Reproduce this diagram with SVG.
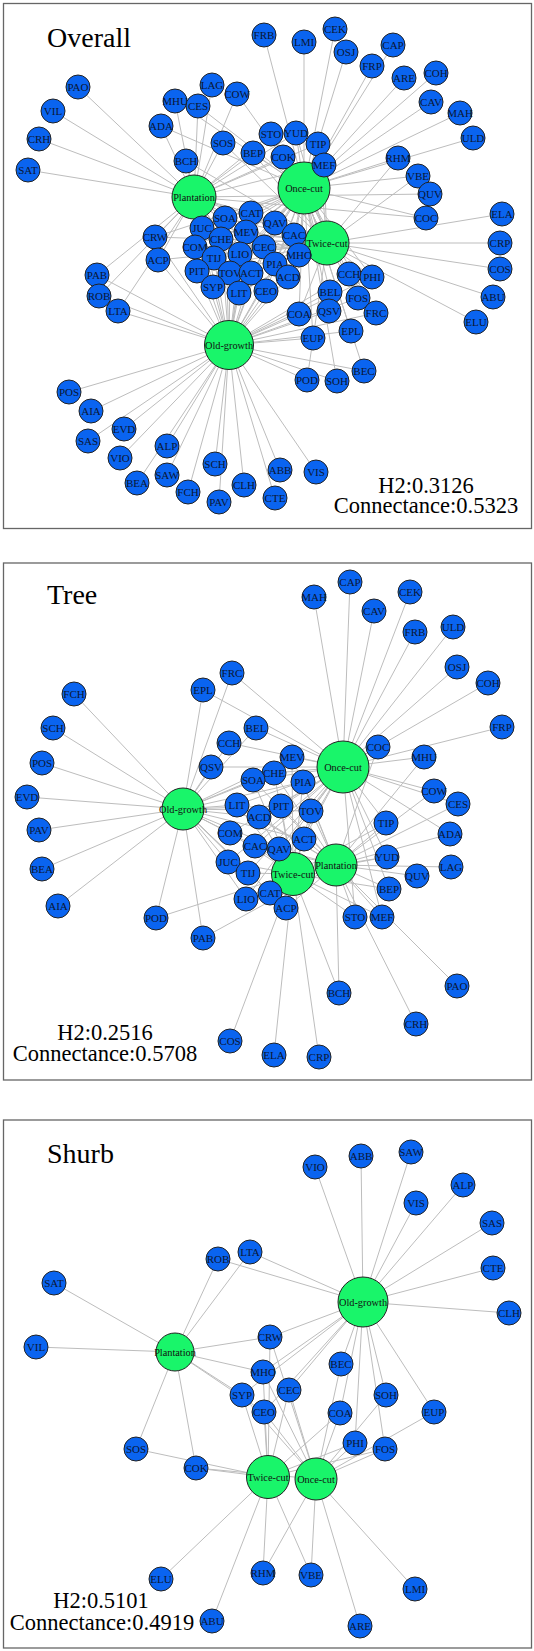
<svg xmlns="http://www.w3.org/2000/svg" width="534" height="1651" viewBox="0 0 534 1651">
<style>
.b circle{fill:#0a64f0;stroke:#222;stroke-width:1}
.b text{font-family:"Liberation Serif",serif;font-size:11px;fill:#0b1633;text-anchor:middle}
.g circle{fill:#19f56a;stroke:#222;stroke-width:1}
.g text{font-family:"Liberation Serif",serif;font-size:10.3px;fill:#111;text-anchor:middle}
.e line{stroke:#bdbdbd;stroke-width:1}
.frame{fill:none;stroke:#666;stroke-width:1.3}
.title{font-family:"Liberation Serif",serif;font-size:28px;fill:#000}
.stat{font-family:"Liberation Serif",serif;font-size:22.5px;fill:#000;text-anchor:middle}
</style>
<rect width="534" height="1651" fill="#fff"/>
<rect class="frame" x="3.5" y="3.5" width="528" height="525"/>
<rect class="frame" x="3.5" y="563" width="528" height="517"/>
<rect class="frame" x="3.5" y="1120" width="528" height="528"/>
<text class="title" x="47" y="47">Overall</text>
<text class="title" x="47" y="604">Tree</text>
<text class="title" x="47" y="1163">Shurb</text>
<text class="stat" x="426" y="493">H2:0.3126</text>
<text class="stat" x="426" y="513">Connectance:0.5323</text>
<text class="stat" x="105" y="1040">H2:0.2516</text>
<text class="stat" x="105" y="1061">Connectance:0.5708</text>
<text class="stat" x="101" y="1608">H2:0.5101</text>
<text class="stat" x="102" y="1630">Connectance:0.4919</text>

<g id="edges-overall" class="e">
<line x1="229" y1="345" x2="188" y2="492"/><line x1="229" y1="345" x2="215" y2="464"/><line x1="229" y1="345" x2="69" y2="392"/><line x1="229" y1="345" x2="124" y2="429"/><line x1="229" y1="345" x2="219" y2="502"/><line x1="229" y1="345" x2="137" y2="483"/><line x1="229" y1="345" x2="91" y2="411"/><line x1="229" y1="345" x2="307" y2="380"/><line x1="229" y1="345" x2="97" y2="275"/><line x1="229" y1="345" x2="351" y2="331"/><line x1="229" y1="345" x2="376" y2="313"/><line x1="229" y1="345" x2="330" y2="292"/><line x1="229" y1="345" x2="349" y2="274"/><line x1="229" y1="345" x2="329" y2="311"/><line x1="229" y1="345" x2="225" y2="218"/><line x1="229" y1="345" x2="239" y2="293"/><line x1="229" y1="345" x2="288" y2="277"/><line x1="229" y1="345" x2="221" y2="239"/><line x1="229" y1="345" x2="246" y2="232"/><line x1="229" y1="345" x2="275" y2="264"/><line x1="229" y1="345" x2="197" y2="271"/><line x1="229" y1="345" x2="230" y2="273"/><line x1="229" y1="345" x2="195" y2="247"/><line x1="229" y1="345" x2="202" y2="228"/><line x1="229" y1="345" x2="294" y2="235"/><line x1="229" y1="345" x2="214" y2="258"/><line x1="229" y1="345" x2="240" y2="254"/><line x1="229" y1="345" x2="251" y2="213"/><line x1="229" y1="345" x2="251" y2="273"/><line x1="229" y1="345" x2="275" y2="223"/><line x1="229" y1="345" x2="158" y2="260"/><line x1="229" y1="345" x2="120" y2="458"/><line x1="229" y1="345" x2="280" y2="470"/><line x1="229" y1="345" x2="167" y2="475"/><line x1="229" y1="345" x2="316" y2="472"/><line x1="229" y1="345" x2="167" y2="446"/><line x1="229" y1="345" x2="88" y2="441"/><line x1="229" y1="345" x2="275" y2="498"/><line x1="229" y1="345" x2="244" y2="485"/><line x1="229" y1="345" x2="99" y2="296"/><line x1="229" y1="345" x2="118" y2="311"/><line x1="229" y1="345" x2="155" y2="237"/><line x1="229" y1="345" x2="364" y2="371"/><line x1="229" y1="345" x2="299" y2="255"/><line x1="229" y1="345" x2="213" y2="287"/><line x1="229" y1="345" x2="264" y2="247"/><line x1="229" y1="345" x2="266" y2="291"/><line x1="229" y1="345" x2="299" y2="314"/><line x1="229" y1="345" x2="337" y2="381"/><line x1="229" y1="345" x2="372" y2="277"/><line x1="229" y1="345" x2="358" y2="298"/><line x1="229" y1="345" x2="313" y2="338"/>
<line x1="304" y1="188" x2="460" y2="113"/><line x1="304" y1="188" x2="393" y2="45"/><line x1="304" y1="188" x2="431" y2="102"/><line x1="304" y1="188" x2="335" y2="29"/><line x1="304" y1="188" x2="264" y2="35"/><line x1="304" y1="188" x2="473" y2="138"/><line x1="304" y1="188" x2="346" y2="52"/><line x1="304" y1="188" x2="436" y2="73"/><line x1="304" y1="188" x2="372" y2="66"/><line x1="304" y1="188" x2="426" y2="218"/><line x1="304" y1="188" x2="175" y2="101"/><line x1="304" y1="188" x2="237" y2="94"/><line x1="304" y1="188" x2="198" y2="106"/><line x1="304" y1="188" x2="318" y2="144"/><line x1="304" y1="188" x2="161" y2="126"/><line x1="304" y1="188" x2="351" y2="331"/><line x1="304" y1="188" x2="376" y2="313"/><line x1="304" y1="188" x2="330" y2="292"/><line x1="304" y1="188" x2="349" y2="274"/><line x1="304" y1="188" x2="329" y2="311"/><line x1="304" y1="188" x2="225" y2="218"/><line x1="304" y1="188" x2="239" y2="293"/><line x1="304" y1="188" x2="288" y2="277"/><line x1="304" y1="188" x2="221" y2="239"/><line x1="304" y1="188" x2="246" y2="232"/><line x1="304" y1="188" x2="275" y2="264"/><line x1="304" y1="188" x2="197" y2="271"/><line x1="304" y1="188" x2="230" y2="273"/><line x1="304" y1="188" x2="195" y2="247"/><line x1="304" y1="188" x2="202" y2="228"/><line x1="304" y1="188" x2="294" y2="235"/><line x1="304" y1="188" x2="214" y2="258"/><line x1="304" y1="188" x2="240" y2="254"/><line x1="304" y1="188" x2="251" y2="213"/><line x1="304" y1="188" x2="251" y2="273"/><line x1="304" y1="188" x2="275" y2="223"/><line x1="304" y1="188" x2="296" y2="133"/><line x1="304" y1="188" x2="271" y2="134"/><line x1="304" y1="188" x2="324" y2="165"/><line x1="304" y1="188" x2="253" y2="153"/><line x1="304" y1="188" x2="283" y2="157"/><line x1="304" y1="188" x2="398" y2="158"/><line x1="304" y1="188" x2="418" y2="176"/><line x1="304" y1="188" x2="404" y2="78"/><line x1="304" y1="188" x2="304" y2="42"/><line x1="304" y1="188" x2="299" y2="255"/><line x1="304" y1="188" x2="213" y2="287"/><line x1="304" y1="188" x2="264" y2="247"/><line x1="304" y1="188" x2="266" y2="291"/><line x1="304" y1="188" x2="299" y2="314"/><line x1="304" y1="188" x2="372" y2="277"/><line x1="304" y1="188" x2="358" y2="298"/><line x1="304" y1="188" x2="313" y2="338"/><line x1="304" y1="188" x2="337" y2="381"/><line x1="304" y1="188" x2="364" y2="371"/><line x1="304" y1="188" x2="155" y2="237"/>
<line x1="194" y1="197" x2="161" y2="126"/><line x1="194" y1="197" x2="212" y2="85"/><line x1="194" y1="197" x2="430" y2="194"/><line x1="194" y1="197" x2="296" y2="133"/><line x1="194" y1="197" x2="253" y2="153"/><line x1="194" y1="197" x2="271" y2="134"/><line x1="194" y1="197" x2="324" y2="165"/><line x1="194" y1="197" x2="186" y2="161"/><line x1="194" y1="197" x2="78" y2="87"/><line x1="194" y1="197" x2="39" y2="139"/><line x1="194" y1="197" x2="175" y2="101"/><line x1="194" y1="197" x2="237" y2="94"/><line x1="194" y1="197" x2="198" y2="106"/><line x1="194" y1="197" x2="318" y2="144"/><line x1="194" y1="197" x2="426" y2="218"/><line x1="194" y1="197" x2="225" y2="218"/><line x1="194" y1="197" x2="221" y2="239"/><line x1="194" y1="197" x2="246" y2="232"/><line x1="194" y1="197" x2="275" y2="264"/><line x1="194" y1="197" x2="197" y2="271"/><line x1="194" y1="197" x2="230" y2="273"/><line x1="194" y1="197" x2="251" y2="273"/><line x1="194" y1="197" x2="275" y2="223"/><line x1="194" y1="197" x2="294" y2="235"/><line x1="194" y1="197" x2="251" y2="213"/><line x1="194" y1="197" x2="288" y2="277"/><line x1="194" y1="197" x2="158" y2="260"/><line x1="194" y1="197" x2="239" y2="293"/><line x1="194" y1="197" x2="97" y2="275"/><line x1="194" y1="197" x2="28" y2="170"/><line x1="194" y1="197" x2="53" y2="111"/><line x1="194" y1="197" x2="99" y2="296"/><line x1="194" y1="197" x2="118" y2="311"/><line x1="194" y1="197" x2="155" y2="237"/><line x1="194" y1="197" x2="299" y2="255"/><line x1="194" y1="197" x2="213" y2="287"/><line x1="194" y1="197" x2="266" y2="291"/><line x1="194" y1="197" x2="223" y2="143"/><line x1="194" y1="197" x2="283" y2="157"/>
<line x1="327" y1="243" x2="158" y2="260"/><line x1="327" y1="243" x2="502" y2="214"/><line x1="327" y1="243" x2="500" y2="243"/><line x1="327" y1="243" x2="500" y2="269"/><line x1="327" y1="243" x2="186" y2="161"/><line x1="327" y1="243" x2="307" y2="380"/><line x1="327" y1="243" x2="251" y2="213"/><line x1="327" y1="243" x2="240" y2="254"/><line x1="327" y1="243" x2="214" y2="258"/><line x1="327" y1="243" x2="202" y2="228"/><line x1="327" y1="243" x2="195" y2="247"/><line x1="327" y1="243" x2="294" y2="235"/><line x1="327" y1="243" x2="275" y2="223"/><line x1="327" y1="243" x2="251" y2="273"/><line x1="327" y1="243" x2="230" y2="273"/><line x1="327" y1="243" x2="197" y2="271"/><line x1="327" y1="243" x2="275" y2="264"/><line x1="327" y1="243" x2="246" y2="232"/><line x1="327" y1="243" x2="221" y2="239"/><line x1="327" y1="243" x2="225" y2="218"/><line x1="327" y1="243" x2="239" y2="293"/><line x1="327" y1="243" x2="288" y2="277"/><line x1="327" y1="243" x2="271" y2="134"/><line x1="327" y1="243" x2="324" y2="165"/><line x1="327" y1="243" x2="318" y2="144"/><line x1="327" y1="243" x2="253" y2="153"/><line x1="327" y1="243" x2="296" y2="133"/><line x1="327" y1="243" x2="223" y2="143"/><line x1="327" y1="243" x2="283" y2="157"/><line x1="327" y1="243" x2="476" y2="322"/><line x1="327" y1="243" x2="493" y2="297"/><line x1="327" y1="243" x2="398" y2="158"/><line x1="327" y1="243" x2="418" y2="176"/><line x1="327" y1="243" x2="299" y2="255"/><line x1="327" y1="243" x2="213" y2="287"/><line x1="327" y1="243" x2="266" y2="291"/><line x1="327" y1="243" x2="264" y2="247"/><line x1="327" y1="243" x2="155" y2="237"/><line x1="327" y1="243" x2="299" y2="314"/><line x1="327" y1="243" x2="372" y2="277"/><line x1="327" y1="243" x2="358" y2="298"/>
</g>

<g id="edges-tree" class="e">
<line x1="183" y1="809" x2="74" y2="694"/><line x1="183" y1="809" x2="53" y2="728"/><line x1="183" y1="809" x2="42" y2="763"/><line x1="183" y1="809" x2="27" y2="797"/><line x1="183" y1="809" x2="39" y2="830"/><line x1="183" y1="809" x2="42" y2="869"/><line x1="183" y1="809" x2="58" y2="906"/><line x1="183" y1="809" x2="156" y2="918"/><line x1="183" y1="809" x2="203" y2="938"/><line x1="183" y1="809" x2="203" y2="690"/><line x1="183" y1="809" x2="232" y2="673"/><line x1="183" y1="809" x2="256" y2="728"/><line x1="183" y1="809" x2="229" y2="743"/><line x1="183" y1="809" x2="211" y2="767"/><line x1="183" y1="809" x2="253" y2="780"/><line x1="183" y1="809" x2="237" y2="805"/><line x1="183" y1="809" x2="259" y2="817"/><line x1="183" y1="809" x2="274" y2="773"/><line x1="183" y1="809" x2="292" y2="757"/><line x1="183" y1="809" x2="303" y2="782"/><line x1="183" y1="809" x2="281" y2="806"/><line x1="183" y1="809" x2="311" y2="811"/><line x1="183" y1="809" x2="230" y2="833"/><line x1="183" y1="809" x2="228" y2="862"/><line x1="183" y1="809" x2="255" y2="846"/><line x1="183" y1="809" x2="248" y2="873"/><line x1="183" y1="809" x2="246" y2="899"/><line x1="183" y1="809" x2="270" y2="893"/><line x1="183" y1="809" x2="304" y2="839"/><line x1="183" y1="809" x2="279" y2="849"/><line x1="183" y1="809" x2="286" y2="908"/>
<line x1="343" y1="767" x2="314" y2="597"/><line x1="343" y1="767" x2="350" y2="582"/><line x1="343" y1="767" x2="374" y2="611"/><line x1="343" y1="767" x2="410" y2="592"/><line x1="343" y1="767" x2="415" y2="632"/><line x1="343" y1="767" x2="453" y2="627"/><line x1="343" y1="767" x2="457" y2="667"/><line x1="343" y1="767" x2="488" y2="683"/><line x1="343" y1="767" x2="502" y2="727"/><line x1="343" y1="767" x2="378" y2="747"/><line x1="343" y1="767" x2="424" y2="757"/><line x1="343" y1="767" x2="434" y2="791"/><line x1="343" y1="767" x2="458" y2="804"/><line x1="343" y1="767" x2="386" y2="823"/><line x1="343" y1="767" x2="450" y2="834"/><line x1="343" y1="767" x2="203" y2="690"/><line x1="343" y1="767" x2="232" y2="673"/><line x1="343" y1="767" x2="256" y2="728"/><line x1="343" y1="767" x2="229" y2="743"/><line x1="343" y1="767" x2="211" y2="767"/><line x1="343" y1="767" x2="253" y2="780"/><line x1="343" y1="767" x2="237" y2="805"/><line x1="343" y1="767" x2="259" y2="817"/><line x1="343" y1="767" x2="274" y2="773"/><line x1="343" y1="767" x2="292" y2="757"/><line x1="343" y1="767" x2="303" y2="782"/><line x1="343" y1="767" x2="281" y2="806"/><line x1="343" y1="767" x2="311" y2="811"/><line x1="343" y1="767" x2="230" y2="833"/><line x1="343" y1="767" x2="228" y2="862"/><line x1="343" y1="767" x2="255" y2="846"/><line x1="343" y1="767" x2="248" y2="873"/><line x1="343" y1="767" x2="246" y2="899"/><line x1="343" y1="767" x2="270" y2="893"/><line x1="343" y1="767" x2="304" y2="839"/><line x1="343" y1="767" x2="279" y2="849"/><line x1="343" y1="767" x2="387" y2="857"/><line x1="343" y1="767" x2="355" y2="917"/><line x1="343" y1="767" x2="382" y2="917"/><line x1="343" y1="767" x2="389" y2="889"/>
<line x1="336" y1="865" x2="450" y2="834"/><line x1="336" y1="865" x2="451" y2="867"/><line x1="336" y1="865" x2="417" y2="876"/><line x1="336" y1="865" x2="387" y2="857"/><line x1="336" y1="865" x2="389" y2="889"/><line x1="336" y1="865" x2="355" y2="917"/><line x1="336" y1="865" x2="382" y2="917"/><line x1="336" y1="865" x2="339" y2="993"/><line x1="336" y1="865" x2="457" y2="986"/><line x1="336" y1="865" x2="416" y2="1024"/><line x1="336" y1="865" x2="424" y2="757"/><line x1="336" y1="865" x2="434" y2="791"/><line x1="336" y1="865" x2="458" y2="804"/><line x1="336" y1="865" x2="386" y2="823"/><line x1="336" y1="865" x2="378" y2="747"/><line x1="336" y1="865" x2="253" y2="780"/><line x1="336" y1="865" x2="274" y2="773"/><line x1="336" y1="865" x2="292" y2="757"/><line x1="336" y1="865" x2="303" y2="782"/><line x1="336" y1="865" x2="281" y2="806"/><line x1="336" y1="865" x2="311" y2="811"/><line x1="336" y1="865" x2="304" y2="839"/><line x1="336" y1="865" x2="279" y2="849"/><line x1="336" y1="865" x2="255" y2="846"/><line x1="336" y1="865" x2="270" y2="893"/><line x1="336" y1="865" x2="259" y2="817"/><line x1="336" y1="865" x2="286" y2="908"/><line x1="336" y1="865" x2="237" y2="805"/><line x1="336" y1="865" x2="203" y2="938"/>
<line x1="293" y1="874" x2="286" y2="908"/><line x1="293" y1="874" x2="274" y2="1055"/><line x1="293" y1="874" x2="319" y2="1057"/><line x1="293" y1="874" x2="230" y2="1041"/><line x1="293" y1="874" x2="339" y2="993"/><line x1="293" y1="874" x2="156" y2="918"/><line x1="293" y1="874" x2="270" y2="893"/><line x1="293" y1="874" x2="246" y2="899"/><line x1="293" y1="874" x2="248" y2="873"/><line x1="293" y1="874" x2="228" y2="862"/><line x1="293" y1="874" x2="230" y2="833"/><line x1="293" y1="874" x2="255" y2="846"/><line x1="293" y1="874" x2="279" y2="849"/><line x1="293" y1="874" x2="304" y2="839"/><line x1="293" y1="874" x2="311" y2="811"/><line x1="293" y1="874" x2="281" y2="806"/><line x1="293" y1="874" x2="303" y2="782"/><line x1="293" y1="874" x2="292" y2="757"/><line x1="293" y1="874" x2="274" y2="773"/><line x1="293" y1="874" x2="253" y2="780"/><line x1="293" y1="874" x2="237" y2="805"/><line x1="293" y1="874" x2="259" y2="817"/><line x1="293" y1="874" x2="355" y2="917"/><line x1="293" y1="874" x2="382" y2="917"/><line x1="293" y1="874" x2="386" y2="823"/><line x1="293" y1="874" x2="389" y2="889"/><line x1="293" y1="874" x2="387" y2="857"/>
</g>

<g id="edges-shrub" class="e">
<line x1="175" y1="1352" x2="54" y2="1283"/><line x1="175" y1="1352" x2="36" y2="1347"/><line x1="175" y1="1352" x2="218" y2="1259"/><line x1="175" y1="1352" x2="250" y2="1252"/><line x1="175" y1="1352" x2="270" y2="1337"/><line x1="175" y1="1352" x2="263" y2="1372"/><line x1="175" y1="1352" x2="242" y2="1395"/><line x1="175" y1="1352" x2="264" y2="1412"/><line x1="175" y1="1352" x2="136" y2="1449"/><line x1="175" y1="1352" x2="196" y2="1468"/>
<line x1="363" y1="1302" x2="315" y2="1167"/><line x1="363" y1="1302" x2="361" y2="1156"/><line x1="363" y1="1302" x2="411" y2="1152"/><line x1="363" y1="1302" x2="416" y2="1203"/><line x1="363" y1="1302" x2="463" y2="1185"/><line x1="363" y1="1302" x2="492" y2="1223"/><line x1="363" y1="1302" x2="493" y2="1268"/><line x1="363" y1="1302" x2="509" y2="1313"/><line x1="363" y1="1302" x2="218" y2="1259"/><line x1="363" y1="1302" x2="250" y2="1252"/><line x1="363" y1="1302" x2="270" y2="1337"/><line x1="363" y1="1302" x2="341" y2="1364"/><line x1="363" y1="1302" x2="263" y2="1372"/><line x1="363" y1="1302" x2="242" y2="1395"/><line x1="363" y1="1302" x2="289" y2="1390"/><line x1="363" y1="1302" x2="264" y2="1412"/><line x1="363" y1="1302" x2="340" y2="1413"/><line x1="363" y1="1302" x2="386" y2="1395"/><line x1="363" y1="1302" x2="355" y2="1443"/><line x1="363" y1="1302" x2="385" y2="1449"/><line x1="363" y1="1302" x2="434" y2="1412"/>
<line x1="268" y1="1477" x2="136" y2="1449"/><line x1="268" y1="1477" x2="196" y2="1468"/><line x1="268" y1="1477" x2="161" y2="1579"/><line x1="268" y1="1477" x2="212" y2="1621"/><line x1="268" y1="1477" x2="263" y2="1573"/><line x1="268" y1="1477" x2="311" y2="1575"/><line x1="268" y1="1477" x2="263" y2="1372"/><line x1="268" y1="1477" x2="242" y2="1395"/><line x1="268" y1="1477" x2="264" y2="1412"/><line x1="268" y1="1477" x2="289" y2="1390"/><line x1="268" y1="1477" x2="270" y2="1337"/><line x1="268" y1="1477" x2="340" y2="1413"/><line x1="268" y1="1477" x2="355" y2="1443"/><line x1="268" y1="1477" x2="385" y2="1449"/>
<line x1="316" y1="1479" x2="196" y2="1468"/><line x1="316" y1="1479" x2="263" y2="1573"/><line x1="316" y1="1479" x2="311" y2="1575"/><line x1="316" y1="1479" x2="360" y2="1626"/><line x1="316" y1="1479" x2="415" y2="1589"/><line x1="316" y1="1479" x2="263" y2="1372"/><line x1="316" y1="1479" x2="242" y2="1395"/><line x1="316" y1="1479" x2="289" y2="1390"/><line x1="316" y1="1479" x2="264" y2="1412"/><line x1="316" y1="1479" x2="340" y2="1413"/><line x1="316" y1="1479" x2="355" y2="1443"/><line x1="316" y1="1479" x2="385" y2="1449"/><line x1="316" y1="1479" x2="434" y2="1412"/><line x1="316" y1="1479" x2="386" y2="1395"/><line x1="316" y1="1479" x2="341" y2="1364"/><line x1="316" y1="1479" x2="270" y2="1337"/>
</g>

<g id="o-plantation" class="g" transform="translate(194 197)"><circle r="22"/><text y="3.6">Plantation</text></g>
<g id="o-once-cut" class="g" transform="translate(304 188)"><circle r="26"/><text y="3.6">Once-cut</text></g>
<g id="o-twice-cut" class="g" transform="translate(327 243)"><circle r="22"/><text y="3.6">Twice-cut</text></g>
<g id="o-old-growth" class="g" transform="translate(229 345)"><circle r="24.5"/><text y="3.6">Old-growth</text></g>

<g id="o-PAO" class="b" transform="translate(78 87)"><circle r="12"/><text y="3.8">PAO</text></g>
<g id="o-VIL" class="b" transform="translate(53 111)"><circle r="12"/><text y="3.8">VIL</text></g>
<g id="o-CRH" class="b" transform="translate(39 139)"><circle r="12"/><text y="3.8">CRH</text></g>
<g id="o-SAT" class="b" transform="translate(28 170)"><circle r="12"/><text y="3.8">SAT</text></g>
<g id="o-MHU" class="b" transform="translate(175 101)"><circle r="12"/><text y="3.8">MHU</text></g>
<g id="o-LAG" class="b" transform="translate(212 85)"><circle r="12"/><text y="3.8">LAG</text></g>
<g id="o-CES" class="b" transform="translate(198 106)"><circle r="12"/><text y="3.8">CES</text></g>
<g id="o-COW" class="b" transform="translate(237 94)"><circle r="12"/><text y="3.8">COW</text></g>
<g id="o-ADA" class="b" transform="translate(161 126)"><circle r="12"/><text y="3.8">ADA</text></g>
<g id="o-SOS" class="b" transform="translate(223 143)"><circle r="12"/><text y="3.8">SOS</text></g>
<g id="o-BEP" class="b" transform="translate(253 153)"><circle r="12"/><text y="3.8">BEP</text></g>
<g id="o-BCH" class="b" transform="translate(186 161)"><circle r="12"/><text y="3.8">BCH</text></g>
<g id="o-CRW" class="b" transform="translate(155 237)"><circle r="12"/><text y="3.8">CRW</text></g>
<g id="o-ACP" class="b" transform="translate(158 260)"><circle r="12"/><text y="3.8">ACP</text></g>
<g id="o-PAB" class="b" transform="translate(97 275)"><circle r="12"/><text y="3.8">PAB</text></g>
<g id="o-ROB" class="b" transform="translate(99 296)"><circle r="12"/><text y="3.8">ROB</text></g>
<g id="o-LTA" class="b" transform="translate(118 311)"><circle r="12"/><text y="3.8">LTA</text></g>
<g id="o-FRB" class="b" transform="translate(264 35)"><circle r="12"/><text y="3.8">FRB</text></g>
<g id="o-LMI" class="b" transform="translate(304 42)"><circle r="12"/><text y="3.8">LMI</text></g>
<g id="o-CEK" class="b" transform="translate(335 29)"><circle r="12"/><text y="3.8">CEK</text></g>
<g id="o-OSJ" class="b" transform="translate(346 52)"><circle r="12"/><text y="3.8">OSJ</text></g>
<g id="o-CAP" class="b" transform="translate(393 45)"><circle r="12"/><text y="3.8">CAP</text></g>
<g id="o-FRP" class="b" transform="translate(372 66)"><circle r="12"/><text y="3.8">FRP</text></g>
<g id="o-ARE" class="b" transform="translate(404 78)"><circle r="12"/><text y="3.8">ARE</text></g>
<g id="o-COH" class="b" transform="translate(436 73)"><circle r="12"/><text y="3.8">COH</text></g>
<g id="o-CAV" class="b" transform="translate(431 102)"><circle r="12"/><text y="3.8">CAV</text></g>
<g id="o-MAH" class="b" transform="translate(460 113)"><circle r="12"/><text y="3.8">MAH</text></g>
<g id="o-ULD" class="b" transform="translate(473 138)"><circle r="12"/><text y="3.8">ULD</text></g>
<g id="o-STO" class="b" transform="translate(271 134)"><circle r="12"/><text y="3.8">STO</text></g>
<g id="o-YUD" class="b" transform="translate(296 133)"><circle r="12"/><text y="3.8">YUD</text></g>
<g id="o-COK" class="b" transform="translate(283 157)"><circle r="12"/><text y="3.8">COK</text></g>
<g id="o-TIP" class="b" transform="translate(318 144)"><circle r="12"/><text y="3.8">TIP</text></g>
<g id="o-MEF" class="b" transform="translate(324 165)"><circle r="12"/><text y="3.8">MEF</text></g>
<g id="o-RHM" class="b" transform="translate(398 158)"><circle r="12"/><text y="3.8">RHM</text></g>
<g id="o-VBE" class="b" transform="translate(418 176)"><circle r="12"/><text y="3.8">VBE</text></g>
<g id="o-QUV" class="b" transform="translate(430 194)"><circle r="12"/><text y="3.8">QUV</text></g>
<g id="o-COC" class="b" transform="translate(426 218)"><circle r="12"/><text y="3.8">COC</text></g>
<g id="o-ELA" class="b" transform="translate(502 214)"><circle r="12"/><text y="3.8">ELA</text></g>
<g id="o-CRP" class="b" transform="translate(500 243)"><circle r="12"/><text y="3.8">CRP</text></g>
<g id="o-COS" class="b" transform="translate(500 269)"><circle r="12"/><text y="3.8">COS</text></g>
<g id="o-ABU" class="b" transform="translate(493 297)"><circle r="12"/><text y="3.8">ABU</text></g>
<g id="o-ELU" class="b" transform="translate(476 322)"><circle r="12"/><text y="3.8">ELU</text></g>
<g id="o-SOA" class="b" transform="translate(225 218)"><circle r="12"/><text y="3.8">SOA</text></g>
<g id="o-CAT" class="b" transform="translate(251 213)"><circle r="12"/><text y="3.8">CAT</text></g>
<g id="o-JUC" class="b" transform="translate(202 228)"><circle r="12"/><text y="3.8">JUC</text></g>
<g id="o-MEV" class="b" transform="translate(246 232)"><circle r="12"/><text y="3.8">MEV</text></g>
<g id="o-CHE" class="b" transform="translate(221 239)"><circle r="12"/><text y="3.8">CHE</text></g>
<g id="o-COM" class="b" transform="translate(195 247)"><circle r="12"/><text y="3.8">COM</text></g>
<g id="o-QAV" class="b" transform="translate(275 223)"><circle r="12"/><text y="3.8">QAV</text></g>
<g id="o-CAC" class="b" transform="translate(294 235)"><circle r="12"/><text y="3.8">CAC</text></g>
<g id="o-CEC" class="b" transform="translate(264 247)"><circle r="12"/><text y="3.8">CEC</text></g>
<g id="o-LIO" class="b" transform="translate(240 254)"><circle r="12"/><text y="3.8">LIO</text></g>
<g id="o-TIJ" class="b" transform="translate(214 258)"><circle r="12"/><text y="3.8">TIJ</text></g>
<g id="o-MHO" class="b" transform="translate(299 255)"><circle r="12"/><text y="3.8">MHO</text></g>
<g id="o-PIA" class="b" transform="translate(275 264)"><circle r="12"/><text y="3.8">PIA</text></g>
<g id="o-PIT" class="b" transform="translate(197 271)"><circle r="12"/><text y="3.8">PIT</text></g>
<g id="o-TOV" class="b" transform="translate(230 273)"><circle r="12"/><text y="3.8">TOV</text></g>
<g id="o-ACT" class="b" transform="translate(251 273)"><circle r="12"/><text y="3.8">ACT</text></g>
<g id="o-ACD" class="b" transform="translate(288 277)"><circle r="12"/><text y="3.8">ACD</text></g>
<g id="o-SYP" class="b" transform="translate(213 287)"><circle r="12"/><text y="3.8">SYP</text></g>
<g id="o-LIT" class="b" transform="translate(239 293)"><circle r="12"/><text y="3.8">LIT</text></g>
<g id="o-CEO" class="b" transform="translate(266 291)"><circle r="12"/><text y="3.8">CEO</text></g>
<g id="o-CCH" class="b" transform="translate(349 274)"><circle r="12"/><text y="3.8">CCH</text></g>
<g id="o-PHI" class="b" transform="translate(372 277)"><circle r="12"/><text y="3.8">PHI</text></g>
<g id="o-BEL" class="b" transform="translate(330 292)"><circle r="12"/><text y="3.8">BEL</text></g>
<g id="o-FOS" class="b" transform="translate(358 298)"><circle r="12"/><text y="3.8">FOS</text></g>
<g id="o-COA" class="b" transform="translate(299 314)"><circle r="12"/><text y="3.8">COA</text></g>
<g id="o-QSV" class="b" transform="translate(329 311)"><circle r="12"/><text y="3.8">QSV</text></g>
<g id="o-FRC" class="b" transform="translate(376 313)"><circle r="12"/><text y="3.8">FRC</text></g>
<g id="o-EPL" class="b" transform="translate(351 331)"><circle r="12"/><text y="3.8">EPL</text></g>
<g id="o-EUP" class="b" transform="translate(313 338)"><circle r="12"/><text y="3.8">EUP</text></g>
<g id="o-BEC" class="b" transform="translate(364 371)"><circle r="12"/><text y="3.8">BEC</text></g>
<g id="o-POD" class="b" transform="translate(307 380)"><circle r="12"/><text y="3.8">POD</text></g>
<g id="o-SOH" class="b" transform="translate(337 381)"><circle r="12"/><text y="3.8">SOH</text></g>
<g id="o-POS" class="b" transform="translate(69 392)"><circle r="12"/><text y="3.8">POS</text></g>
<g id="o-AIA" class="b" transform="translate(91 411)"><circle r="12"/><text y="3.8">AIA</text></g>
<g id="o-EVD" class="b" transform="translate(124 429)"><circle r="12"/><text y="3.8">EVD</text></g>
<g id="o-SAS" class="b" transform="translate(88 441)"><circle r="12"/><text y="3.8">SAS</text></g>
<g id="o-ALP" class="b" transform="translate(167 446)"><circle r="12"/><text y="3.8">ALP</text></g>
<g id="o-VIO" class="b" transform="translate(120 458)"><circle r="12"/><text y="3.8">VIO</text></g>
<g id="o-SCH" class="b" transform="translate(215 464)"><circle r="12"/><text y="3.8">SCH</text></g>
<g id="o-SAW" class="b" transform="translate(167 475)"><circle r="12"/><text y="3.8">SAW</text></g>
<g id="o-BEA" class="b" transform="translate(137 483)"><circle r="12"/><text y="3.8">BEA</text></g>
<g id="o-CLH" class="b" transform="translate(244 485)"><circle r="12"/><text y="3.8">CLH</text></g>
<g id="o-FCH" class="b" transform="translate(188 492)"><circle r="12"/><text y="3.8">FCH</text></g>
<g id="o-PAV" class="b" transform="translate(219 502)"><circle r="12"/><text y="3.8">PAV</text></g>
<g id="o-ABB" class="b" transform="translate(280 470)"><circle r="12"/><text y="3.8">ABB</text></g>
<g id="o-VIS" class="b" transform="translate(316 472)"><circle r="12"/><text y="3.8">VIS</text></g>
<g id="o-CTE" class="b" transform="translate(275 498)"><circle r="12"/><text y="3.8">CTE</text></g>

<g id="t-old-growth" class="g" transform="translate(183 809)"><circle r="21"/><text y="3.6">Old-growth</text></g>
<g id="t-once-cut" class="g" transform="translate(343 767)"><circle r="26"/><text y="3.6">Once-cut</text></g>
<g id="t-plantation" class="g" transform="translate(336 865)"><circle r="21"/><text y="3.6">Plantation</text></g>
<g id="t-twice-cut" class="g" transform="translate(293 874)"><circle r="21.5"/><text y="3.6">Twice-cut</text></g>

<g id="t-FRC" class="b" transform="translate(232 673)"><circle r="12"/><text y="3.8">FRC</text></g>
<g id="t-EPL" class="b" transform="translate(203 690)"><circle r="12"/><text y="3.8">EPL</text></g>
<g id="t-FCH" class="b" transform="translate(74 694)"><circle r="12"/><text y="3.8">FCH</text></g>
<g id="t-SCH" class="b" transform="translate(53 728)"><circle r="12"/><text y="3.8">SCH</text></g>
<g id="t-POS" class="b" transform="translate(42 763)"><circle r="12"/><text y="3.8">POS</text></g>
<g id="t-EVD" class="b" transform="translate(27 797)"><circle r="12"/><text y="3.8">EVD</text></g>
<g id="t-PAV" class="b" transform="translate(39 830)"><circle r="12"/><text y="3.8">PAV</text></g>
<g id="t-BEA" class="b" transform="translate(42 869)"><circle r="12"/><text y="3.8">BEA</text></g>
<g id="t-AIA" class="b" transform="translate(58 906)"><circle r="12"/><text y="3.8">AIA</text></g>
<g id="t-POD" class="b" transform="translate(156 918)"><circle r="12"/><text y="3.8">POD</text></g>
<g id="t-PAB" class="b" transform="translate(203 938)"><circle r="12"/><text y="3.8">PAB</text></g>
<g id="t-BEL" class="b" transform="translate(256 728)"><circle r="12"/><text y="3.8">BEL</text></g>
<g id="t-CCH" class="b" transform="translate(229 743)"><circle r="12"/><text y="3.8">CCH</text></g>
<g id="t-QSV" class="b" transform="translate(211 767)"><circle r="12"/><text y="3.8">QSV</text></g>
<g id="t-MEV" class="b" transform="translate(292 757)"><circle r="12"/><text y="3.8">MEV</text></g>
<g id="t-CHE" class="b" transform="translate(274 773)"><circle r="12"/><text y="3.8">CHE</text></g>
<g id="t-SOA" class="b" transform="translate(253 780)"><circle r="12"/><text y="3.8">SOA</text></g>
<g id="t-PIA" class="b" transform="translate(303 782)"><circle r="12"/><text y="3.8">PIA</text></g>
<g id="t-LIT" class="b" transform="translate(237 805)"><circle r="12"/><text y="3.8">LIT</text></g>
<g id="t-PIT" class="b" transform="translate(281 806)"><circle r="12"/><text y="3.8">PIT</text></g>
<g id="t-TOV" class="b" transform="translate(311 811)"><circle r="12"/><text y="3.8">TOV</text></g>
<g id="t-ACD" class="b" transform="translate(259 817)"><circle r="12"/><text y="3.8">ACD</text></g>
<g id="t-COM" class="b" transform="translate(230 833)"><circle r="12"/><text y="3.8">COM</text></g>
<g id="t-ACT" class="b" transform="translate(304 839)"><circle r="12"/><text y="3.8">ACT</text></g>
<g id="t-CAC" class="b" transform="translate(255 846)"><circle r="12"/><text y="3.8">CAC</text></g>
<g id="t-QAV" class="b" transform="translate(279 849)"><circle r="12"/><text y="3.8">QAV</text></g>
<g id="t-JUC" class="b" transform="translate(228 862)"><circle r="12"/><text y="3.8">JUC</text></g>
<g id="t-TIJ" class="b" transform="translate(248 873)"><circle r="12"/><text y="3.8">TIJ</text></g>
<g id="t-CAT" class="b" transform="translate(270 893)"><circle r="12"/><text y="3.8">CAT</text></g>
<g id="t-LIO" class="b" transform="translate(246 899)"><circle r="12"/><text y="3.8">LIO</text></g>
<g id="t-ACP" class="b" transform="translate(286 908)"><circle r="12"/><text y="3.8">ACP</text></g>
<g id="t-MAH" class="b" transform="translate(314 597)"><circle r="12"/><text y="3.8">MAH</text></g>
<g id="t-CAP" class="b" transform="translate(350 582)"><circle r="12"/><text y="3.8">CAP</text></g>
<g id="t-CEK" class="b" transform="translate(410 592)"><circle r="12"/><text y="3.8">CEK</text></g>
<g id="t-CAV" class="b" transform="translate(374 611)"><circle r="12"/><text y="3.8">CAV</text></g>
<g id="t-FRB" class="b" transform="translate(415 632)"><circle r="12"/><text y="3.8">FRB</text></g>
<g id="t-ULD" class="b" transform="translate(453 627)"><circle r="12"/><text y="3.8">ULD</text></g>
<g id="t-OSJ" class="b" transform="translate(457 667)"><circle r="12"/><text y="3.8">OSJ</text></g>
<g id="t-COH" class="b" transform="translate(488 683)"><circle r="12"/><text y="3.8">COH</text></g>
<g id="t-FRP" class="b" transform="translate(502 727)"><circle r="12"/><text y="3.8">FRP</text></g>
<g id="t-COC" class="b" transform="translate(378 747)"><circle r="12"/><text y="3.8">COC</text></g>
<g id="t-MHU" class="b" transform="translate(424 757)"><circle r="12"/><text y="3.8">MHU</text></g>
<g id="t-COW" class="b" transform="translate(434 791)"><circle r="12"/><text y="3.8">COW</text></g>
<g id="t-CES" class="b" transform="translate(458 804)"><circle r="12"/><text y="3.8">CES</text></g>
<g id="t-TIP" class="b" transform="translate(386 823)"><circle r="12"/><text y="3.8">TIP</text></g>
<g id="t-ADA" class="b" transform="translate(450 834)"><circle r="12"/><text y="3.8">ADA</text></g>
<g id="t-YUD" class="b" transform="translate(387 857)"><circle r="12"/><text y="3.8">YUD</text></g>
<g id="t-LAG" class="b" transform="translate(451 867)"><circle r="12"/><text y="3.8">LAG</text></g>
<g id="t-QUV" class="b" transform="translate(417 876)"><circle r="12"/><text y="3.8">QUV</text></g>
<g id="t-BEP" class="b" transform="translate(389 889)"><circle r="12"/><text y="3.8">BEP</text></g>
<g id="t-STO" class="b" transform="translate(355 917)"><circle r="12"/><text y="3.8">STO</text></g>
<g id="t-MEF" class="b" transform="translate(382 917)"><circle r="12"/><text y="3.8">MEF</text></g>
<g id="t-BCH" class="b" transform="translate(339 993)"><circle r="12"/><text y="3.8">BCH</text></g>
<g id="t-PAO" class="b" transform="translate(457 986)"><circle r="12"/><text y="3.8">PAO</text></g>
<g id="t-CRH" class="b" transform="translate(416 1024)"><circle r="12"/><text y="3.8">CRH</text></g>
<g id="t-COS" class="b" transform="translate(230 1041)"><circle r="12"/><text y="3.8">COS</text></g>
<g id="t-ELA" class="b" transform="translate(274 1055)"><circle r="12"/><text y="3.8">ELA</text></g>
<g id="t-CRP" class="b" transform="translate(319 1057)"><circle r="12"/><text y="3.8">CRP</text></g>

<g id="s-plantation" class="g" transform="translate(175 1352)"><circle r="19"/><text y="3.6">Plantation</text></g>
<g id="s-old-growth" class="g" transform="translate(363 1302)"><circle r="25"/><text y="3.6">Old-growth</text></g>
<g id="s-twice-cut" class="g" transform="translate(268 1477)"><circle r="21.5"/><text y="3.6">Twice-cut</text></g>
<g id="s-once-cut" class="g" transform="translate(316 1479)"><circle r="21"/><text y="3.6">Once-cut</text></g>

<g id="s-ROB" class="b" transform="translate(218 1259)"><circle r="12"/><text y="3.8">ROB</text></g>
<g id="s-LTA" class="b" transform="translate(250 1252)"><circle r="12"/><text y="3.8">LTA</text></g>
<g id="s-SAT" class="b" transform="translate(54 1283)"><circle r="12"/><text y="3.8">SAT</text></g>
<g id="s-VIL" class="b" transform="translate(36 1347)"><circle r="12"/><text y="3.8">VIL</text></g>
<g id="s-VIO" class="b" transform="translate(315 1167)"><circle r="12"/><text y="3.8">VIO</text></g>
<g id="s-ABB" class="b" transform="translate(361 1156)"><circle r="12"/><text y="3.8">ABB</text></g>
<g id="s-SAW" class="b" transform="translate(411 1152)"><circle r="12"/><text y="3.8">SAW</text></g>
<g id="s-ALP" class="b" transform="translate(463 1185)"><circle r="12"/><text y="3.8">ALP</text></g>
<g id="s-VIS" class="b" transform="translate(416 1203)"><circle r="12"/><text y="3.8">VIS</text></g>
<g id="s-SAS" class="b" transform="translate(492 1223)"><circle r="12"/><text y="3.8">SAS</text></g>
<g id="s-CTE" class="b" transform="translate(493 1268)"><circle r="12"/><text y="3.8">CTE</text></g>
<g id="s-CLH" class="b" transform="translate(509 1313)"><circle r="12"/><text y="3.8">CLH</text></g>
<g id="s-CRW" class="b" transform="translate(270 1337)"><circle r="12"/><text y="3.8">CRW</text></g>
<g id="s-BEC" class="b" transform="translate(341 1364)"><circle r="12"/><text y="3.8">BEC</text></g>
<g id="s-MHO" class="b" transform="translate(263 1372)"><circle r="12"/><text y="3.8">MHO</text></g>
<g id="s-CEC" class="b" transform="translate(289 1390)"><circle r="12"/><text y="3.8">CEC</text></g>
<g id="s-SYP" class="b" transform="translate(242 1395)"><circle r="12"/><text y="3.8">SYP</text></g>
<g id="s-CEO" class="b" transform="translate(264 1412)"><circle r="12"/><text y="3.8">CEO</text></g>
<g id="s-SOH" class="b" transform="translate(386 1395)"><circle r="12"/><text y="3.8">SOH</text></g>
<g id="s-COA" class="b" transform="translate(340 1413)"><circle r="12"/><text y="3.8">COA</text></g>
<g id="s-EUP" class="b" transform="translate(434 1412)"><circle r="12"/><text y="3.8">EUP</text></g>
<g id="s-PHI" class="b" transform="translate(355 1443)"><circle r="12"/><text y="3.8">PHI</text></g>
<g id="s-FOS" class="b" transform="translate(385 1449)"><circle r="12"/><text y="3.8">FOS</text></g>
<g id="s-SOS" class="b" transform="translate(136 1449)"><circle r="12"/><text y="3.8">SOS</text></g>
<g id="s-COK" class="b" transform="translate(196 1468)"><circle r="12"/><text y="3.8">COK</text></g>
<g id="s-RHM" class="b" transform="translate(263 1573)"><circle r="12"/><text y="3.8">RHM</text></g>
<g id="s-VBE" class="b" transform="translate(311 1575)"><circle r="12"/><text y="3.8">VBE</text></g>
<g id="s-LMI" class="b" transform="translate(415 1589)"><circle r="12"/><text y="3.8">LMI</text></g>
<g id="s-ARE" class="b" transform="translate(360 1626)"><circle r="12"/><text y="3.8">ARE</text></g>
<g id="s-ELU" class="b" transform="translate(161 1579)"><circle r="12"/><text y="3.8">ELU</text></g>
<g id="s-ABU" class="b" transform="translate(212 1621)"><circle r="12"/><text y="3.8">ABU</text></g>
</svg>
